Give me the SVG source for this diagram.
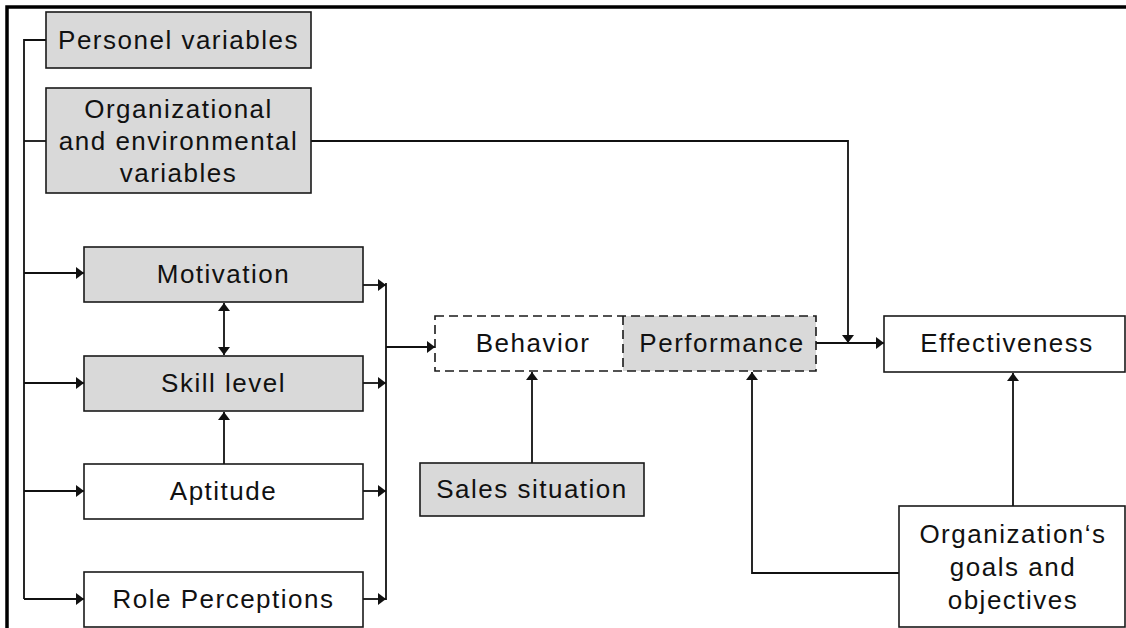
<svg xmlns="http://www.w3.org/2000/svg" width="1126" height="628" viewBox="0 0 1126 628">
<style>
.box{stroke:#1a1a1a;stroke-width:1.6;fill:#fff}
.gray{fill:#d9d9d9}
.dash{stroke:#1a1a1a;stroke-width:1.6;stroke-dasharray:9 5;fill:none}
.t{font-family:"Liberation Sans",Arial,sans-serif;font-size:26px;letter-spacing:1.5px;fill:#111;text-anchor:middle}
.ln{stroke:#111;stroke-width:1.8;fill:none}
.arr{marker-end:url(#ah)}
</style>
<defs>
<marker id="ah" markerUnits="userSpaceOnUse" markerWidth="9" markerHeight="12" refX="8" refY="6" orient="auto-start-reverse" viewBox="0 0 9 12">
<path d="M0,0 L8,6 L0,12 z" fill="#111"/>
</marker>
</defs>
<rect width="1126" height="628" fill="#fff"/>
<path d="M7,628 V7 H1126" stroke="#000" stroke-width="3.5" fill="none"/>

<g id="connectors">
<path class="ln" d="M24,599 V40 H46"/>
<path class="ln" d="M24,141 H46"/>
<path class="ln arr" d="M24,273 H84"/>
<path class="ln arr" d="M24,383 H84"/>
<path class="ln arr" d="M24,491 H84"/>
<path class="ln arr" d="M24,599 H84"/>
<path class="ln" d="M224,303 V355" marker-start="url(#ah)" marker-end="url(#ah)"/>
<path class="ln arr" d="M224,464 V412"/>
<path class="ln arr" d="M363,285 H386"/>
<path class="ln arr" d="M363,383 H386"/>
<path class="ln arr" d="M363,491 H386"/>
<path class="ln arr" d="M363,599 H386"/>
<path class="ln" d="M386,283 V600"/>
<path class="ln arr" d="M386,347 H435"/>
<path class="ln arr" d="M532,463 V372"/>
<path class="ln arr" d="M311,141 H848 V343"/>
<path class="ln arr" d="M816,343 H884"/>
<path class="ln arr" d="M899,573 H752 V372"/>
<path class="ln arr" d="M1013,506 V373"/>
</g>

<g id="personel">
<rect class="box gray" x="46" y="12" width="265" height="56"/>
<text class="t" x="178.5" y="49">Personel variables</text>
</g>
<g id="organizational">
<rect class="box gray" x="46" y="88" width="265" height="105"/>
<text class="t" x="178.5" y="117.5">Organizational</text>
<text class="t" x="178.5" y="149.5">and environmental</text>
<text class="t" x="178.5" y="181.5">variables</text>
</g>
<g id="motivation">
<rect class="box gray" x="84" y="247" width="279" height="55"/>
<text class="t" x="223.5" y="283">Motivation</text>
</g>
<g id="skill">
<rect class="box gray" x="84" y="356" width="279" height="55"/>
<text class="t" x="223.5" y="392">Skill level</text>
</g>
<g id="aptitude">
<rect class="box" x="84" y="464" width="279" height="55"/>
<text class="t" x="223.5" y="500">Aptitude</text>
</g>
<g id="role">
<rect class="box" x="84" y="572" width="279" height="55"/>
<text class="t" x="223.5" y="608">Role Perceptions</text>
</g>
<g id="behavior-performance">
<rect x="623" y="316" width="193" height="55" fill="#d9d9d9"/>
<rect class="dash" x="435" y="316" width="381" height="55"/>
<line class="dash" x1="623" y1="316" x2="623" y2="371"/>
<text class="t" x="533" y="352">Behavior</text>
<text class="t" x="722" y="352">Performance</text>
</g>
<g id="sales">
<rect class="box gray" x="420" y="463" width="224" height="53"/>
<text class="t" x="532" y="498">Sales situation</text>
</g>
<g id="effectiveness">
<rect class="box" x="884" y="316" width="241" height="56"/>
<text class="t" x="1007" y="352">Effectiveness</text>
</g>
<g id="goals">
<rect class="box" x="899" y="506" width="226" height="121"/>
<text class="t" x="1013" y="543">Organization‘s</text>
<text class="t" x="1013" y="576">goals and</text>
<text class="t" x="1013" y="609">objectives</text>
</g>
</svg>
